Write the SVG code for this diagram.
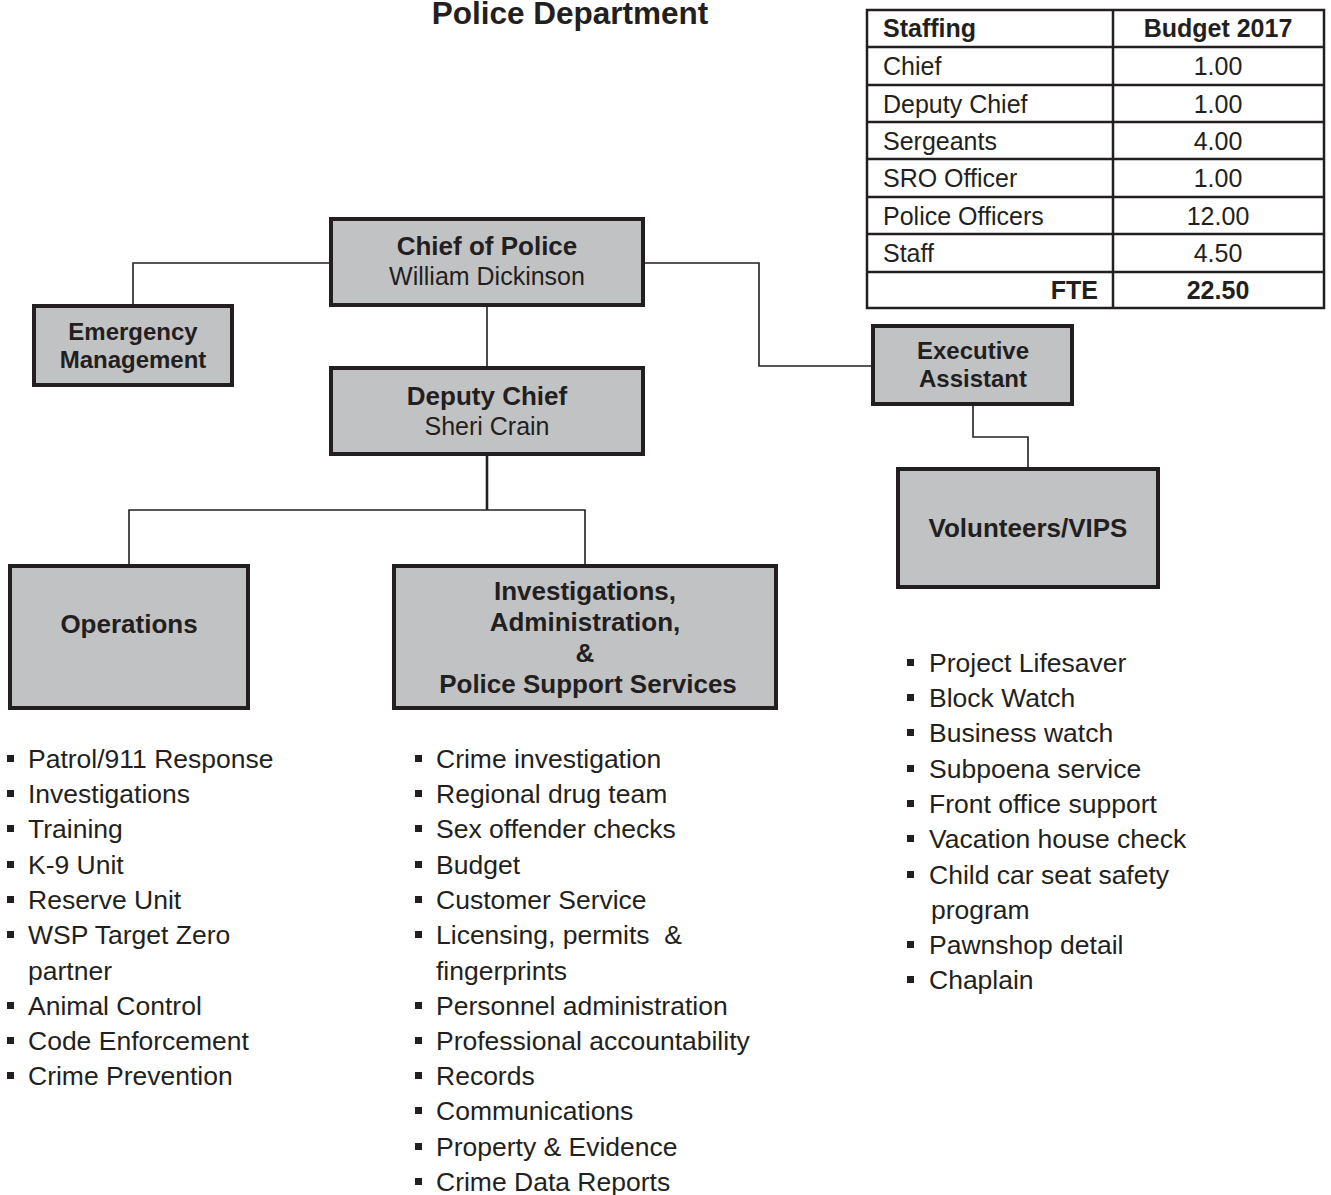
<svg xmlns="http://www.w3.org/2000/svg" width="1331" height="1195" viewBox="0 0 1331 1195">
<style>
text{font-family:"Liberation Sans",Arial,sans-serif;fill:#231f20}
.b{font-weight:bold}
.box{fill:#c1c2c4;stroke:#231f20;stroke-width:4}
.c{text-anchor:middle}
.line{fill:none;stroke:#231f20;stroke-width:1.6}
.thick{fill:none;stroke:#231f20;stroke-width:2.6}
.tb{fill:#fff;stroke:#231f20;stroke-width:2.5}
.tl{stroke:#231f20;stroke-width:2.5}
.t26{font-size:26px}
.t25{font-size:25px}
.t24{font-size:24px}
.li{font-size:26.5px}
.bu{fill:#231f20}
</style>
<rect width="1331" height="1195" fill="#fff"/>
<text class="b c" x="570" y="24" font-size="31.5">Police Department</text>

<g id="staffing-table">
<rect class="tb" x="867" y="10" width="457" height="298"/>
<line class="tl" x1="1113" y1="10" x2="1113" y2="308"/>
<line class="tl" x1="867" y1="47" x2="1324" y2="47"/>
<line class="tl" x1="867" y1="85" x2="1324" y2="85"/>
<line class="tl" x1="867" y1="122" x2="1324" y2="122"/>
<line class="tl" x1="867" y1="159" x2="1324" y2="159"/>
<line class="tl" x1="867" y1="197" x2="1324" y2="197"/>
<line class="tl" x1="867" y1="234" x2="1324" y2="234"/>
<line class="tl" x1="867" y1="272" x2="1324" y2="272"/>
<g class="t25">
<text class="b" x="883" y="37">Staffing</text>
<text class="b c" x="1218" y="37">Budget 2017</text>
<text x="883" y="75">Chief</text><text class="c" x="1218" y="75">1.00</text>
<text x="883" y="113">Deputy Chief</text><text class="c" x="1218" y="113">1.00</text>
<text x="883" y="150">Sergeants</text><text class="c" x="1218" y="150">4.00</text>
<text x="883" y="187">SRO Officer</text><text class="c" x="1218" y="187">1.00</text>
<text x="883" y="225">Police Officers</text><text class="c" x="1218" y="225">12.00</text>
<text x="883" y="262">Staff</text><text class="c" x="1218" y="262">4.50</text>
<text class="b" x="1098" y="299" text-anchor="end">FTE</text><text class="b c" x="1218" y="299">22.50</text>
</g>
</g>

<g id="connectors">
<polyline class="line" points="330,263 133,263 133,305"/>
<line class="line" x1="487" y1="306" x2="487" y2="367"/>
<polyline class="line" points="644,263 759,263 759,366 872,366"/>
<polyline class="line" points="973,405 973,437 1028,437 1028,468"/>
<line class="thick" x1="487" y1="455" x2="487" y2="510"/>
<polyline class="line" points="129,565 129,510 585,510 585,565"/>
</g>

<g id="chief">
<rect class="box" x="331" y="219" width="312" height="86"/>
<text class="b c t26" x="487" y="255">Chief of Police</text>
<text class="c t25" x="487" y="285">William Dickinson</text>
</g>
<g id="emergency">
<rect class="box" x="34" y="306" width="198" height="79"/>
<text class="b c t24" x="133" y="340">Emergency</text>
<text class="b c t24" x="133" y="368">Management</text>
</g>
<g id="deputy">
<rect class="box" x="331" y="368" width="312" height="86"/>
<text class="b c t26" x="487" y="405">Deputy Chief</text>
<text class="c t25" x="487" y="435">Sheri Crain</text>
</g>
<g id="executive">
<rect class="box" x="873" y="326" width="199" height="78"/>
<text class="b c t24" x="973" y="359">Executive</text>
<text class="b c t24" x="973" y="387">Assistant</text>
</g>
<g id="volunteers">
<rect class="box" x="898" y="469" width="260" height="118"/>
<text class="b c t26" x="1028" y="537">Volunteers/VIPS</text>
</g>
<g id="operations">
<rect class="box" x="10" y="566" width="238" height="142"/>
<text class="b c t26" x="129" y="633">Operations</text>
</g>
<g id="investigations">
<rect class="box" x="394" y="566" width="382" height="142"/>
<text class="b c t26" x="585" y="600">Investigations,</text>
<text class="b c t26" x="585" y="631">Administration,</text>
<text class="b c t26" x="585" y="662">&amp;</text>
<text class="b c t26" x="588" y="693">Police Support Services</text>
</g>

<g id="operations-list" class="li">
<rect class="bu" x="7" y="755" width="7" height="7"/><text x="28" y="768">Patrol/911 Response</text>
<rect class="bu" x="7" y="790" width="7" height="7"/><text x="28" y="803">Investigations</text>
<rect class="bu" x="7" y="825" width="7" height="7"/><text x="28" y="838">Training</text>
<rect class="bu" x="7" y="861" width="7" height="7"/><text x="28" y="874">K-9 Unit</text>
<rect class="bu" x="7" y="896" width="7" height="7"/><text x="28" y="909">Reserve Unit</text>
<rect class="bu" x="7" y="931" width="7" height="7"/><text x="28" y="944">WSP Target Zero</text>
<text x="28" y="980">partner</text>
<rect class="bu" x="7" y="1002" width="7" height="7"/><text x="28" y="1015">Animal Control</text>
<rect class="bu" x="7" y="1037" width="7" height="7"/><text x="28" y="1050">Code Enforcement</text>
<rect class="bu" x="7" y="1072" width="7" height="7"/><text x="28" y="1085">Crime Prevention</text>
</g>

<g id="investigations-list" class="li">
<rect class="bu" x="415" y="755" width="7" height="7"/><text x="436" y="768">Crime investigation</text>
<rect class="bu" x="415" y="790" width="7" height="7"/><text x="436" y="803">Regional drug team</text>
<rect class="bu" x="415" y="825" width="7" height="7"/><text x="436" y="838">Sex offender checks</text>
<rect class="bu" x="415" y="861" width="7" height="7"/><text x="436" y="874">Budget</text>
<rect class="bu" x="415" y="896" width="7" height="7"/><text x="436" y="909">Customer Service</text>
<rect class="bu" x="415" y="931" width="7" height="7"/><text x="436" y="944" xml:space="preserve">Licensing, permits  &amp;</text>
<text x="436" y="980">fingerprints</text>
<rect class="bu" x="415" y="1002" width="7" height="7"/><text x="436" y="1015">Personnel administration</text>
<rect class="bu" x="415" y="1037" width="7" height="7"/><text x="436" y="1050">Professional accountability</text>
<rect class="bu" x="415" y="1072" width="7" height="7"/><text x="436" y="1085">Records</text>
<rect class="bu" x="415" y="1107" width="7" height="7"/><text x="436" y="1120">Communications</text>
<rect class="bu" x="415" y="1143" width="7" height="7"/><text x="436" y="1156">Property &amp; Evidence</text>
<rect class="bu" x="415" y="1178" width="7" height="7"/><text x="436" y="1191">Crime Data Reports</text>
</g>

<g id="volunteers-list" class="li">
<rect class="bu" x="907" y="659" width="7" height="7"/><text x="929" y="672">Project Lifesaver</text>
<rect class="bu" x="907" y="694" width="7" height="7"/><text x="929" y="707">Block Watch</text>
<rect class="bu" x="907" y="729" width="7" height="7"/><text x="929" y="742">Business watch</text>
<rect class="bu" x="907" y="765" width="7" height="7"/><text x="929" y="778">Subpoena service</text>
<rect class="bu" x="907" y="800" width="7" height="7"/><text x="929" y="813">Front office support</text>
<rect class="bu" x="907" y="835" width="7" height="7"/><text x="929" y="848">Vacation house check</text>
<rect class="bu" x="907" y="871" width="7" height="7"/><text x="929" y="884">Child car seat safety</text>
<text x="931" y="919">program</text>
<rect class="bu" x="907" y="941" width="7" height="7"/><text x="929" y="954">Pawnshop detail</text>
<rect class="bu" x="907" y="976" width="7" height="7"/><text x="929" y="989">Chaplain</text>
</g>
</svg>
